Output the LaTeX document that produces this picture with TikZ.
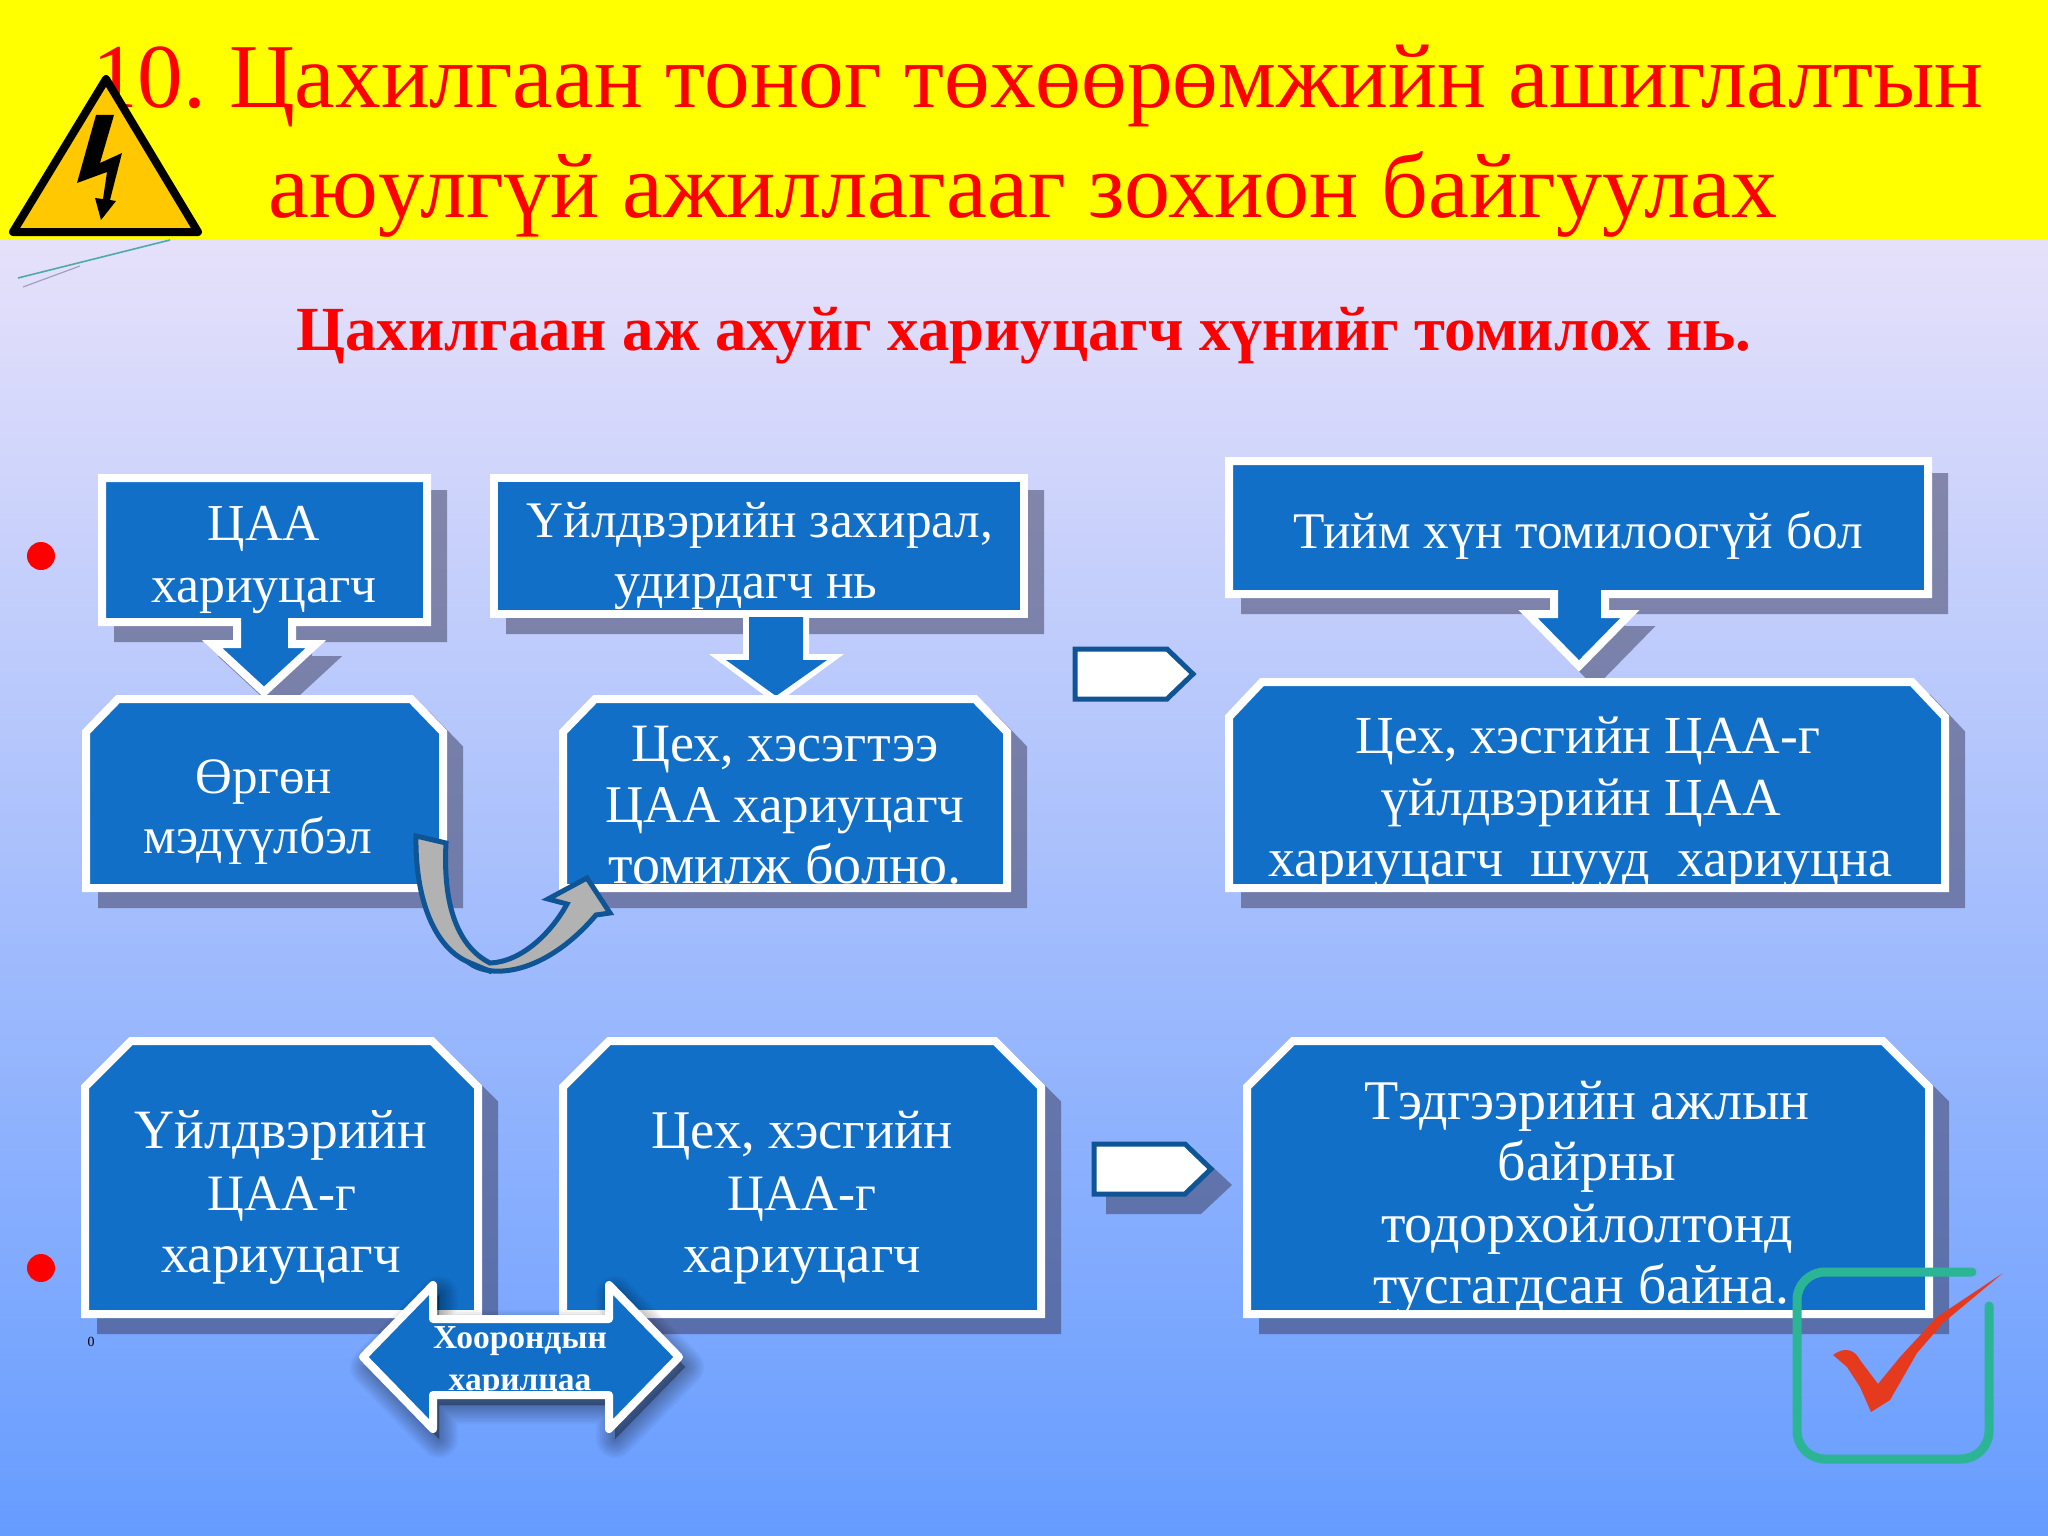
\documentclass[tikz,border=0pt]{standalone}
\usepackage{fontspec}
\setmainfont{Liberation Serif}
\frenchspacing
\definecolor{hdryellow}{rgb}{1,1,0}
\definecolor{boxblue}{HTML}{126FC8}
\definecolor{shadowc}{HTML}{39395A}
\definecolor{darkedge}{HTML}{0F5595}
\definecolor{ttlred}{rgb}{1,0,0}
\definecolor{teal}{HTML}{2BB594}
\definecolor{chk}{HTML}{E63A1E}
\tikzset{
  x=1pt,y=-1pt,
  panelshape/.style={fill=boxblue,draw=white,line width=8pt,line join=miter,miter limit=10},
  shadowshape/.style={fill=shadowc,draw=shadowc,line width=8pt,line join=miter,miter limit=10},
  boxtext/.style={text=white,anchor=base,inner sep=0pt,yshift=-1.5pt,font=\fontsize{#1}{60}\selectfont},
  titletext/.style={text=ttlred,anchor=base,inner sep=0pt,font=\fontsize{#1}{100}\selectfont},
  tagshape/.style={fill=white,draw=darkedge,line width=5pt,line join=miter},
  bullet/.style={circle,fill=red,draw=none,minimum size=28pt,inner sep=0pt},
  arrowtext/.style={text=white,anchor=base,inner sep=0pt,font=\bfseries\fontsize{33.5}{36}\selectfont},
}
\newcommand{\panel}[1]{%
  \begin{scope}[transparency group,opacity=.5,shift={(16,16)}]\draw[shadowshape] #1;\end{scope}
  \draw[panelshape] #1;}
\begin{document}
\begin{tikzpicture}
\useasboundingbox (0,0) rectangle (2048,1536);
% background
\shade[top color={rgb,255:red,230;green,225;blue,250}, bottom color={rgb,255:red,102;green,156;blue,255}] (0,240) rectangle (2048,1536);
\fill[hdryellow] (0,0) rectangle (2048,240);
% title
\node[titletext=91.3] (t1) at (1038,108) {10. Цахилгаан тоног төхөөрөмжийн ашиглалтын};
\node[titletext=92] (t2) at (1023,217) {аюулгүй ажиллагааг зохион байгуулах};
\node[text=ttlred,anchor=base,inner sep=0pt,font=\bfseries\fontsize{62.8}{70}\selectfont] (sub) at (1024,350) {Цахилгаан аж ахуйг хариуцагч хүнийг томилох нь.};
% warning sign
\draw[fill={rgb,255:red,255;green,200;blue,0},draw=black,line width=8pt,line join=round] (106,79) -- (198,232) -- (13,232) -- cycle;
\fill[black] (96,115) -- (114,115) -- (100,163) -- (122,153) -- (110,200) -- (116,201) -- (101,220) -- (95,198) -- (103,199) -- (107,172) -- (77,183) -- cycle;
\draw[line width=1.6pt,color={rgb,255:red,80;green,170;blue,170}] (18,278) -- (170,240);
\draw[line width=1.2pt,color={rgb,255:red,160;green,160;blue,190}] (23,287) -- (80,266);
% bullets
\node[bullet] (b1) at (41,556) {};
\node[bullet] (b2) at (41,1268) {};
\node[anchor=base,inner sep=0pt,font=\fontsize{14}{15}\selectfont] (zero) at (91,1346) {0};
% top row left
\panel{(102,478) -- (427,478) -- (427,622) -- (292,622) -- (292,644) -- (316,644) -- (264,692) -- (212,644) -- (237,644) -- (237,622) -- (102,622) -- cycle}
\panel{(494,478) -- (1024,478) -- (1024,614) -- (494,614) -- cycle}
\fill[white] (743,617) -- (743,654) -- (709,654) -- (776,704) -- (844,654) -- (809,654) -- (809,617) -- cycle;
\fill[boxblue] (749,617) -- (749,660) -- (726,660) -- (776,696) -- (827,660) -- (803,660) -- (803,617) -- cycle;
\panel{(86,732) -- (118,699) -- (411,699) -- (443,732) -- (443,888) -- (86,888) -- cycle}
\panel{(563,732) -- (595,699) -- (975,699) -- (1007,732) -- (1007,888) -- (563,888) -- cycle}
% right column
\panel{(1229,461) -- (1928,461) -- (1928,594) -- (1605,594) -- (1605,614) -- (1630,614) -- (1579,666) -- (1528,614) -- (1554,614) -- (1554,594) -- (1229,594) -- cycle}
\panel{(1229,717) -- (1262,682) -- (1912,682) -- (1945,717) -- (1945,888) -- (1229,888) -- cycle}
% tags
\draw[tagshape] (1075,649) -- (1167,649) -- (1193,674) -- (1167,699) -- (1075,699) -- cycle;
\fill[shadowc,opacity=.5] (1106,1156) -- (1201,1156) -- (1232,1185) -- (1201,1214) -- (1106,1214) -- cycle;
\draw[tagshape] (1094,1144) -- (1185,1144) -- (1211,1169) -- (1185,1194) -- (1094,1194) -- cycle;
% lower row
\panel{(85,1087) -- (131,1041) -- (432,1041) -- (478,1087) -- (478,1314) -- (85,1314) -- cycle}
\panel{(563,1087) -- (609,1041) -- (995,1041) -- (1041,1087) -- (1041,1314) -- (563,1314) -- cycle}
\panel{(1247,1087) -- (1293,1041) -- (1883,1041) -- (1929,1087) -- (1929,1314) -- (1247,1314) -- cycle}
% box texts
\node[boxtext=51.8] (a1) at (264,539) {ЦАА};
\node[boxtext=51.8] (a2) at (264,601) {хариуцагч};
\node[boxtext=51.3] (c1) at (760,536) {Үйлдвэрийн захирал,};
\node[boxtext=51.8] (c2) at (746,597) {удирдагч нь};
\node[boxtext=51] (d1) at (264,792) {Өргөн};
\node[boxtext=51.5] (d2) at (258,852) {мэдүүлбэл};
\node[boxtext=54] (e1) at (785,760) {Цех, хэсэгтээ};
\node[boxtext=53] (e2) at (785,821) {ЦАА хариуцагч};
\node[boxtext=56] (e3) at (785,882) {томилж болно.};
\node[boxtext=51.4] (f1) at (1578,547) {Тийм хүн томилоогүй бол};
\node[boxtext=53.5] (g1) at (1588,752) {Цех, хэсгийн ЦАА-г};
\node[boxtext=53.5] (g2) at (1581,814) {үйлдвэрийн ЦАА};
\node[boxtext=54] (g3) at (1580,875) {хариуцагч\ \ шууд\ \ хариуцна};
\node[boxtext=55.5] (h1) at (281,1147) {Үйлдвэрийн};
\node[boxtext=51] (h2) at (282,1209) {ЦАА-г};
\node[boxtext=55] (h3) at (281,1271) {хариуцагч};
\node[boxtext=54.5] (i1) at (802,1147) {Цех, хэсгийн};
\node[boxtext=51] (i2) at (802,1209) {ЦАА-г};
\node[boxtext=54.5] (i3) at (802,1271) {хариуцагч};
\node[boxtext=56] (j1) at (1587,1118) {Тэдгээрийн ажлын};
\node[boxtext=56] (j2) at (1587,1179) {байрны};
\node[boxtext=56] (j3) at (1587,1241) {тодорхойлолтонд};
\node[boxtext=55.5] (j4) at (1581,1302) {тусгагдсан байна.};
% curved arrow
\draw[fill={rgb,255:red,178;green,178;blue,178},draw=darkedge,line width=5pt,line join=miter]
  (416,836) .. controls (415,890) and (430,945) .. (468,962)
  .. controls (490,980) and (545,975) .. (596,915)
  -- (610,913) -- (587,878) -- (548,899) -- (567,904)
  .. controls (550,935) and (520,962) .. (490,963)
  .. controls (455,945) and (443,900) .. (446,843) -- cycle;
\draw[darkedge,line width=5pt] (468,962) -- (492,972);
% double arrow
\foreach \w in {38,34,30,26,22,18,14,10,6,2}{
  \draw[fill=black,draw=black,opacity=.035,line width=\w pt,line join=round] (369,1367) -- (439,1295) -- (439,1329) -- (615,1329) -- (615,1295) -- (685,1367) -- (615,1439) -- (615,1405) -- (439,1405) -- (439,1439) -- cycle;
}
\draw[fill=boxblue,draw=white,line width=8pt,line join=round] (363,1357) -- (433,1285) -- (433,1319) -- (609,1319) -- (609,1285) -- (679,1357) -- (609,1429) -- (609,1395) -- (433,1395) -- (433,1429) -- cycle;
\node[arrowtext] (k1) at (520,1348) {Хоорондын};
\node[arrowtext] (k2) at (520,1390) {харилцаа};
% check box
\draw[teal,line width=9pt,line cap=round,rounded corners=28pt] (1972,1272) -- (1797,1272) -- (1797,1459) -- (1989,1459) -- (1989,1306);
\fill[chk] (1833,1355) .. controls (1845,1346) and (1855,1350) .. (1860,1360) -- (1878,1384) -- (1900,1357) -- (1937,1317) -- (2003,1273) -- (1943,1323) -- (1917,1353) -- (1890,1400) -- (1871,1412) -- (1860,1387) -- (1847,1367) -- cycle;
\end{tikzpicture}
\end{document}
